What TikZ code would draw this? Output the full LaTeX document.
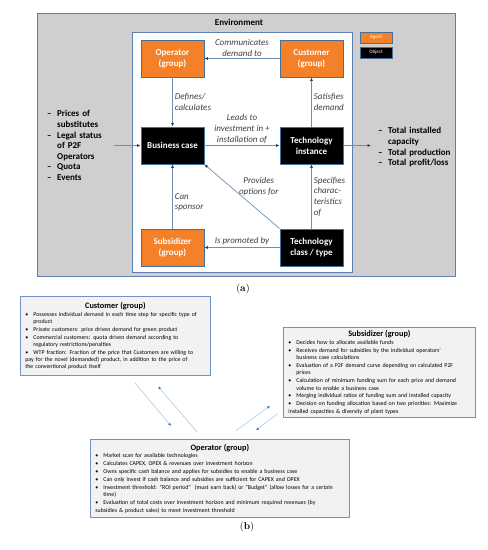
\documentclass[tikz,border=0pt]{standalone}
\usepackage{fontspec}
\setsansfont{Carlito}
\usepackage{tikz}
\usetikzlibrary{positioning, arrows.meta}
\definecolor{EnvGray}{HTML}{D0CECE}
\definecolor{EnvLine}{HTML}{5E7FAE}
\definecolor{AgentOrange}{HTML}{F4812A}
\definecolor{BoxLine}{HTML}{41719C}
\definecolor{LinkLine}{HTML}{6F8DB5}
\definecolor{TipBlue}{HTML}{203864}
\definecolor{NoteFill}{HTML}{F2F2F2}
\definecolor{NoteLine}{HTML}{7093C3}
\definecolor{FlowLine}{HTML}{9DC3E6}
\definecolor{FlowTip}{HTML}{2E75B6}
\definecolor{LabelGray}{HTML}{404040}

% list items with hanging indent
\newcommand{\bitem}[1]{\par\vspace{0.6pt}\hangindent=8pt\hangafter=1\noindent\makebox[8pt][l]{\textbullet}#1}
\newcommand{\ditem}[1]{\par\hangindent=10pt\hangafter=1\noindent\makebox[10pt][l]{\textendash}#1}
\newcommand{\notetitle}[1]{{\centering\fontsize{8.3}{9.5}\selectfont\bfseries #1\par}}

\begin{document}
\begin{tikzpicture}[
    x=1pt, y=-1pt,
    every node/.style={font=\sffamily},
    agentbox/.style={draw=BoxLine, line width=0.9pt, fill=AgentOrange, text=white,
        font=\sffamily\bfseries\fontsize{9}{11}\selectfont,
        minimum width=63pt, minimum height=37pt, inner sep=0pt, align=center},
    objbox/.style={agentbox, fill=black},
    linkarrow/.style={draw=LinkLine, line width=0.7pt, -{Latex[length=3.5pt, width=3pt, color=TipBlue]}},
    lbl/.style={font=\sffamily\itshape\fontsize{9}{10.7}\selectfont, text=LabelGray, inner sep=2pt},
    notebox/.style={draw=NoteLine, line width=0.8pt, fill=NoteFill, anchor=north west,
        inner xsep=5pt, inner ysep=3pt, align=left,
        font=\sffamily\fontsize{5.9}{7.3}\selectfont},
    flow/.style={draw=FlowLine, line width=0.5pt, -{Latex[length=3pt, width=2.6pt, color=FlowTip]}},
    listtxt/.style={anchor=north west, inner sep=0pt, align=left,
        font=\sffamily\bfseries\fontsize{9}{10.6}\selectfont}
]
\useasboundingbox (0,0) rectangle (488,550);

% === (a) ENVIRONMENT ===
\draw[EnvLine, line width=1pt, fill=EnvGray] (37,13) rectangle (455,276);
\node[font=\sffamily\bfseries\fontsize{9}{11}\selectfont] (envtitle) at (239,22) {Environment};
\draw[EnvLine, line width=1pt, fill=white] (132,32) rectangle (352,272);

% legend
\node[agentbox, minimum width=32pt, minimum height=11pt, font=\sffamily\fontsize{5}{6}\selectfont] (legagent) at (376,37.5) {Agent};
\node[objbox, minimum width=32pt, minimum height=11pt, font=\sffamily\fontsize{5}{6}\selectfont] (legobject) at (376,52.5) {Object};

% agents and objects
\node[agentbox] (oper) at (172.5,58.5) {Operator\\(group)};
\node[agentbox] (cust) at (311.5,58.5) {Customer\\(group)};
\node[objbox] (bcase) at (172.5,145.5) {Business case};
\node[objbox] (tinst) at (311.5,145.5) {Technology\\instance};
\node[agentbox] (subs) at (172.5,247.5) {Subsidizer\\(group)};
\node[objbox] (tclass) at (311.5,247.5) {Technology\\class / type};

% relations
\draw[linkarrow] (cust) -- node[lbl, above, align=center] {Communicates\\demand to} (oper);
\draw[linkarrow] (oper) -- node[lbl, right, align=left] {Defines/\\calculates} (bcase);
\draw[linkarrow] (tinst) -- node[lbl, right, align=left] {Satisfies\\demand} (cust);
\draw[linkarrow] (bcase) -- node[lbl, above, align=center] {Leads to\\investment in +\\installation of} (tinst);
\draw[linkarrow] (subs) -- node[lbl, right, pos=0.41, align=left] {Can\\sponsor} (bcase);
\draw[linkarrow] (tclass.north west) -- node[lbl, pos=0.65, anchor=west, xshift=6pt, align=center] {Provides\\options for} (bcase.south east);
\draw[linkarrow] (tclass) -- node[lbl, right, align=left] {Specifies\\charac-\\teristics\\of} (tinst);
\draw[linkarrow] (tclass) -- node[lbl, above] {Is promoted by} (subs);

% inputs and outputs
\node[listtxt, text width=62pt] (drivers) at (47,106) {\ditem{Prices of\newline substitutes}\ditem{Legal status\newline of P2F\newline Operators}\ditem{Quota}\ditem{Events}};
\node[listtxt, text width=80pt] (results) at (378,123) {\ditem{Total installed\newline capacity}\ditem{Total production}\ditem{Total profit/loss}};
\coordinate (inpt) at (114,145.5);
\coordinate (outpt) at (371,145.5);
\draw[linkarrow] (inpt) -- (bcase);
\draw[linkarrow] (tinst) -- (outpt);

\node[font=\rmfamily\fontsize{10}{12}\selectfont] (capa) at (243,289) {(\textbf{a})};

% === (b) AGENT DETAILS ===
\node[notebox, text width=180pt, minimum height=79pt] (custnote) at (20,296) {\notetitle{Customer (group)}
\bitem{Possesses individual demand in each time step for specific type of\newline product}
\bitem{Private customers: price driven demand for green product}
\bitem{Commercial customers: quota driven demand according to\newline regulatory restrictions/penalties}
\bitem{WTP fraction: Fraction of the price that Customers are willing to\newline pay for the novel (demanded) product, in addition to the price of\newline the conventional product itself}};

\node[notebox, text width=182pt, minimum height=84pt] (subsnote) at (283,327) {\notetitle{Subsidizer (group)}
\bitem{Decides how to allocate available funds}
\bitem{Receives demand for subsidies by the individual operators'\newline business case calculations}
\bitem{Evaluation of a P2F demand curve depending on calculated P2F\newline prices}
\bitem{Calculation of minimum funding sum for each price and demand\newline volume to enable a business case}
\bitem{Merging individual ratios of funding sum and installed capacity}
\bitem{Decision on funding allocation based on two priorities: Maximize\newline installed capacities \& diversity of plant types}};

\node[notebox, text width=249pt, minimum height=78pt] (opernote) at (90,439) {\notetitle{Operator (group)}
\bitem{Market scan for available technologies}
\bitem{Calculates CAPEX, OPEX \& revenues over investment horizon}
\bitem{Owns specific cash balance and applies for subsidies to enable a business case}
\bitem{Can only invest if cash balance and subsidies are sufficient for CAPEX and OPEX}
\bitem{Investment threshold: "ROI period"\ \ (must earn back) or "Budget" (allow losses for a certain\newline time)}
\bitem{Evaluation of total costs over investment horizon and minimum required revenues (by\newline subsidies \& product sales) to meet investment threshold}};

% exchanges between agents
\draw[flow, shorten <=9pt, shorten >=17pt] ([xshift=109pt]custnote.south west) -- ([xshift=92pt]opernote.north west);
\draw[flow, shorten <=9pt, shorten >=14pt] ([xshift=113pt]opernote.north west) -- ([xshift=129pt]custnote.south west);
\draw[flow, shorten <=14pt, shorten >=16pt] ([xshift=134.5pt]opernote.north west) -- ([yshift=21pt]subsnote.south west);
\draw[flow, shorten <=7pt, shorten >=14.5pt] ([yshift=8pt]subsnote.south west) -- ([xshift=154.5pt]opernote.north west);

\node[font=\rmfamily\fontsize{10}{12}\selectfont] (capb) at (247,527) {(\textbf{b})};

\end{tikzpicture}
\end{document}
